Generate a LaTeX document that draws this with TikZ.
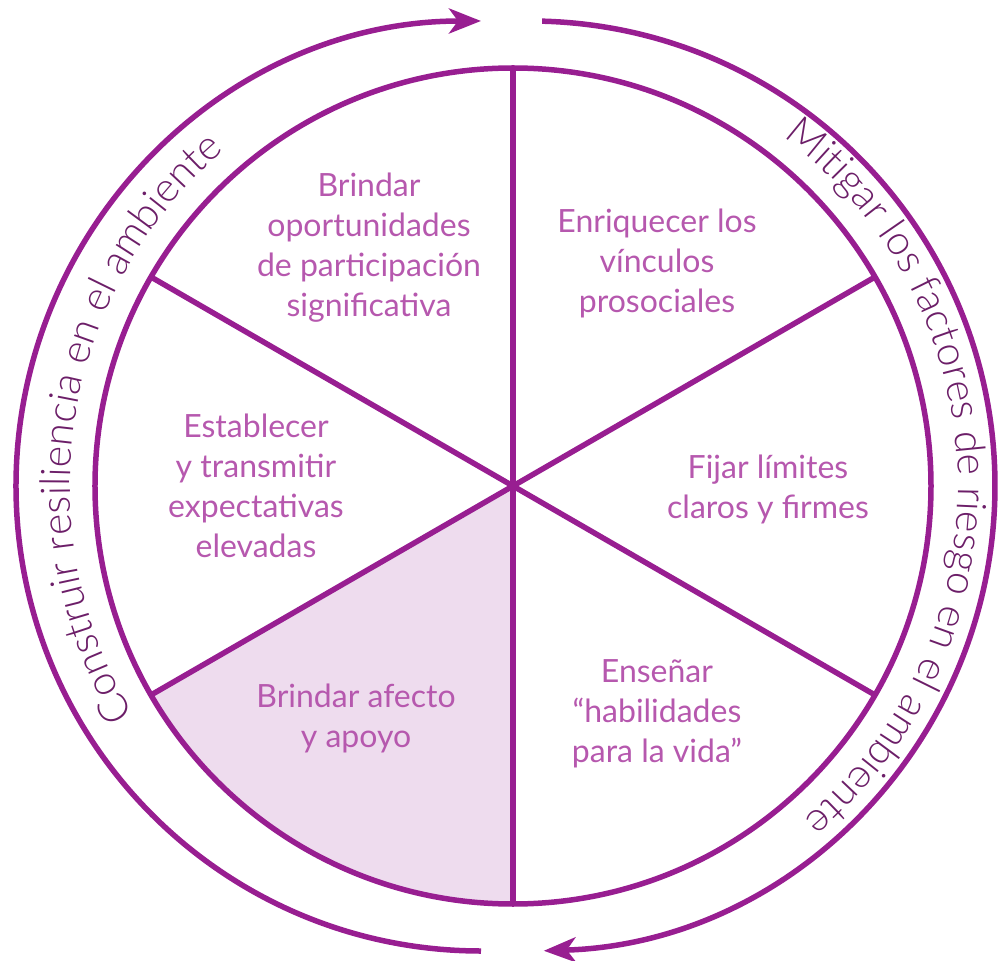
\documentclass[tikz,border=0pt]{standalone}
\usepackage{fontspec}
\setmainfont{Lato}
\newfontfamily\lightfont{Lato Light}
\usetikzlibrary{arrows.meta,decorations.text}
\definecolor{ringline}{RGB}{152,30,145}
\definecolor{innertxt}{RGB}{182,88,174}
\definecolor{outertxt}{RGB}{108,30,104}
\definecolor{sectorfill}{RGB}{238,220,238}
\tikzset{
  spoke/.style={draw=ringline, line width=5.5pt},
  label/.style={text=innertxt, align=center, inner sep=0pt,
    font=\fontsize{32pt}{40pt}\selectfont},
  cycarrow/.style={draw=ringline, line width=5.5pt,
    -{Stealth[length=32pt,width=25pt,inset=9pt]}},
  ringtext/.style={decorate, decoration={text along path, text align=left,
    text color=outertxt}}
}
\begin{document}
\begin{tikzpicture}[x=1pt,y=1pt]
\useasboundingbox (-513pt,-474pt) rectangle (487pt,486pt);
\coordinate (O) at (0,0);
\coordinate (CL) at (-32pt,0pt);
\coordinate (CR) at (17pt,0pt);
\coordinate (CT) at (8pt,0pt);
% shaded sector
\fill[sectorfill] (O) -- (210:418pt) arc[start angle=210, end angle=270, radius=418pt] -- cycle;
% spokes
\foreach \a/\n in {90/s1,30/s2,-30/s3,-90/s4,-150/s5,150/s6}{
  \coordinate (\n) at (\a:418pt);
  \draw[spoke] (O) -- (\n);
}
\draw[spoke] (O) circle[radius=418pt];
% outer arrows
\draw[cycarrow] (CL) ++(270:465pt) arc[start angle=270, end angle=90, radius=465pt];
\draw[cycarrow] (CR) ++(88.5:465pt) arc[start angle=88.5, end angle=-88.3, radius=465pt];
% curved texts
\path[ringtext, decoration={text={|\lightfont\fontsize{41pt}{41pt}\selectfont|Construir resiliencia en el ambiente}}]
  (O) ++(211:443pt) arc[start angle=211, end angle=100, radius=443pt];
\path[ringtext, decoration={text={|\lightfont\fontsize{41pt}{41pt}\selectfont|Mitigar los factores de riesgo en el ambiente}}]
  (CT) ++(53.1:437pt) arc[start angle=53.1, end angle=-80, radius=437pt];
% labels
\node[label] (t1) at (-144pt,238pt) {Brindar\\oportunidades\\de participación\\significativa};
\node[label] (t2) at (144pt,223pt) {Enriquecer los\\vínculos\\prosociales};
\node[label] (t3) at (255pt,-3pt) {Fijar límites\\claros y firmes};
\node[label] (t4) at (144pt,-228pt) {Enseñar\\“habilidades\\para la vida”};
\node[label] (t5) at (-157pt,-232pt) {Brindar afecto\\y apoyo};
\node[label] (t6) at (-257pt,0pt) {Establecer\\y transmitir\\expectativas\\elevadas};
\end{tikzpicture}
\end{document}
